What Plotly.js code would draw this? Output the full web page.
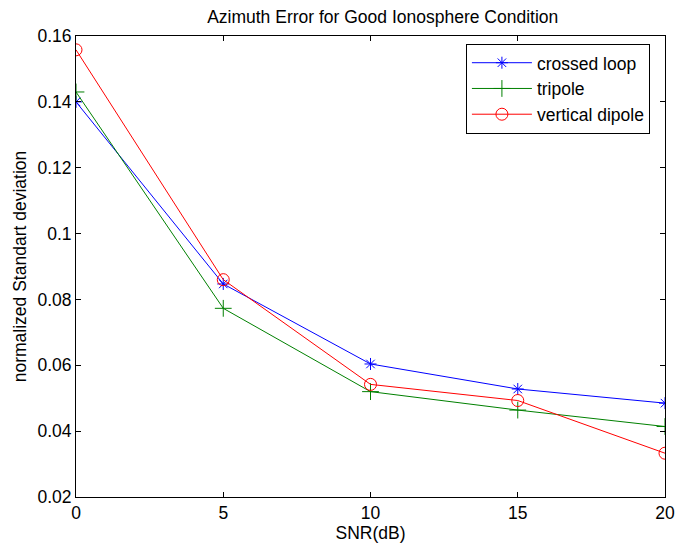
<!DOCTYPE html>
<html>
<head>
<meta charset="utf-8">
<script src="https://cdn.plot.ly/plotly-3.0.1.min.js"></script>
<style>html,body{margin:0;padding:0;background:#fff;}#chart{width:675px;height:550px;}</style>
</head>
<body>
<div id="chart"></div>
<script>
var snr = [0, 5, 10, 15, 20];
var crossedLoop = [0.1400, 0.0847, 0.0604, 0.0528, 0.0485];
var tripole = [0.1430, 0.0773, 0.0520, 0.0464, 0.0414];
var verticalDipole = [0.1558, 0.0860, 0.0542, 0.0493, 0.0333];
var seriesNames = ["crossed loop", "tripole", "vertical dipole"];
var xTicks = [0, 5, 10, 15, 20];
var yTicks = [0.02, 0.04, 0.06, 0.08, 0.1, 0.12, 0.14, 0.16];
var yTickText = ["0.02", "0.04", "0.06", "0.08", "0.1", "0.12", "0.14", "0.16"];

var font = "Liberation Sans, Arial, sans-serif";
var fs = 17.5;
var traces = [
  {x: snr, y: crossedLoop, name: seriesNames[0], mode: "lines+markers",
   line: {color: "#0000ff", width: 1},
   marker: {symbol: "asterisk-open", size: 10, color: "#0000ff", line: {color: "#0000ff", width: 1}}},
  {x: snr, y: tripole, name: seriesNames[1], mode: "lines+markers",
   line: {color: "#008000", width: 1},
   marker: {symbol: "cross-thin-open", size: 12, color: "#008000", line: {color: "#008000", width: 1}}},
  {x: snr, y: verticalDipole, name: seriesNames[2], mode: "lines+markers",
   line: {color: "#ff0000", width: 1},
   marker: {symbol: "circle-open", size: 12, color: "#ff0000", line: {color: "#ff0000", width: 1}}}
];

var axisCommon = {
  showgrid: false, zeroline: false, showline: true, mirror: "ticks",
  linecolor: "#000", linewidth: 1, ticks: "inside", ticklen: 5, tickcolor: "#000",
  tickfont: {family: font, size: fs, color: "#000"}
};

var layout = {
  width: 675, height: 550,
  paper_bgcolor: "#fff", plot_bgcolor: "#fff",
  margin: {l: 76, r: 10, t: 36, b: 53},
  title: {text: "Azimuth Error for Good Ionosphere Condition", x: 0.567, xanchor: "center", y: 0.969, yanchor: "middle",
          font: {family: font, size: fs, color: "#000"}},
  xaxis: Object.assign({}, axisCommon, {range: [0, 20], tickvals: xTicks, ticktext: xTicks.map(String),
          title: {text: "SNR(dB)", standoff: 3, font: {family: font, size: fs, color: "#000"}}}),
  yaxis: Object.assign({}, axisCommon, {range: [0.02, 0.16], tickvals: yTicks, ticktext: yTickText,
          title: {text: "normalized Standart deviation", standoff: 6, font: {family: font, size: fs, color: "#000"}}}),
  legend: {x: 0.662, y: 0.983, xanchor: "left", yanchor: "top", bgcolor: "#fff",
           bordercolor: "#000", borderwidth: 1, itemwidth: 60,
           font: {family: font, size: fs, color: "#000"}, tracegroupgap: 0},
  showlegend: true
};

Plotly.newPlot("chart", traces, layout, {displayModeBar: false, staticPlot: true});
</script>
</body>
</html>
